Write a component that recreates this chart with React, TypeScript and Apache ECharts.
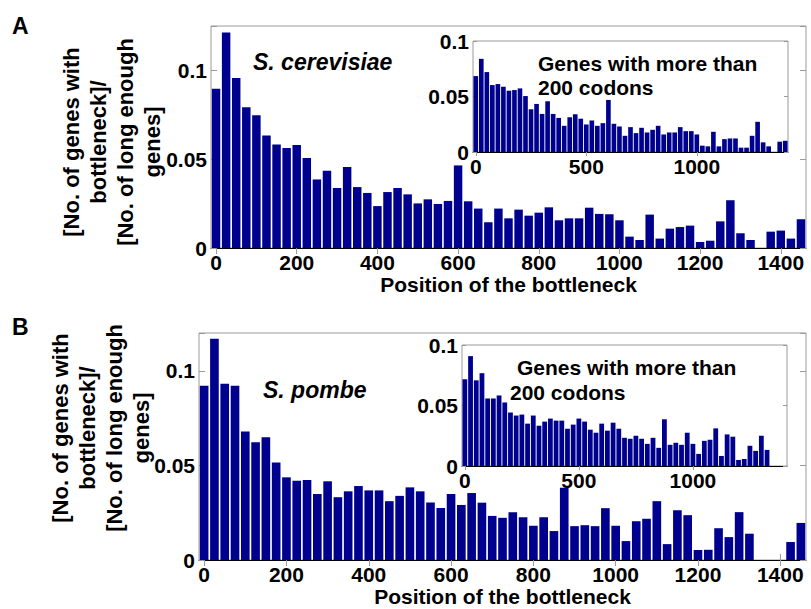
import * as echarts from "echarts";
import { useEffect, useRef } from "react";

const FONT = 'Arial, "Liberation Sans", sans-serif';
const BAR_COLOR = "#00008f";
const BOX_COLOR = "#9a9a9a";

// 25-codon bins, labelled by their start position
const mainBins = [
  0, 25, 50, 75, 100, 125, 150, 175, 200, 225, 250, 275, 300, 325, 350, 375,
  400, 425, 450, 475, 500, 525, 550, 575, 600, 625, 650, 675, 700, 725, 750,
  775, 800, 825, 850, 875, 900, 925, 950, 975, 1000, 1025, 1050, 1075, 1100,
  1125, 1150, 1175, 1200, 1225, 1250, 1275, 1300, 1325, 1350, 1375, 1400,
  1425, 1450,
];
const insetBins = [
  0, 25, 50, 75, 100, 125, 150, 175, 200, 225, 250, 275, 300, 325, 350, 375,
  400, 425, 450, 475, 500, 525, 550, 575, 600, 625, 650, 675, 700, 725, 750,
  775, 800, 825, 850, 875, 900, 925, 950, 975, 1000, 1025, 1050, 1075, 1100,
  1125, 1150, 1175, 1200, 1225, 1250, 1275, 1300, 1325, 1350, 1375, 1400,
];

const mainTickLabels = ["0", "200", "400", "600", "800", "1000", "1200", "1400"];
const insetTickLabels = ["0", "500", "1000"];
const mainYTicks = [0, 0.05, 0.1];
const insetYTicks = [0, 0.05, 0.1];

// S. cerevisiae, all genes
const cerevisiaeAll = [
  0.0897, 0.1214, 0.0957, 0.0792, 0.0747, 0.0634, 0.0583, 0.0563, 0.058, 0.0507,
  0.0386, 0.0435, 0.0338, 0.0456, 0.0343, 0.031, 0.0236, 0.0315, 0.0338, 0.0302,
  0.0251, 0.0274, 0.0248, 0.0265, 0.0465, 0.0263, 0.0222, 0.0145, 0.0222, 0.0167,
  0.0216, 0.0182, 0.0199, 0.0229, 0.0156, 0.0167, 0.0167, 0.0227, 0.0192, 0.019,
  0.0156, 0.0064, 0.0045, 0.0188, 0.0053, 0.0109, 0.0118, 0.0126, 0.0034, 0.0041,
  0.015, 0.0269, 0.0083, 0.0045, 0, 0.0092, 0.0098, 0.0053, 0.0162,
];
// S. cerevisiae, genes with more than 200 codons
const cerevisiaeLong = [
  0.0684, 0.0839, 0.072, 0.0603, 0.0612, 0.0588, 0.0552, 0.0558, 0.0573, 0.0504,
  0.0385, 0.0433, 0.0343, 0.0457, 0.0343, 0.0307, 0.0236, 0.0313, 0.034, 0.03,
  0.0248, 0.0284, 0.0236, 0.026, 0.0469, 0.0254, 0.023, 0.0146, 0.0224, 0.017,
  0.0218, 0.0176, 0.02, 0.0236, 0.0158, 0.0176, 0.0176, 0.0224, 0.0188, 0.0188,
  0.0158, 0.0057, 0.0051, 0.0182, 0.0051, 0.0116, 0.0122, 0.0122, 0.0039, 0.0039,
  0.0146, 0.0272, 0.0087, 0.0051, 0, 0.0093, 0.0101,
];
// S. pombe, all genes
const pombeAll = [
  0.0921, 0.117, 0.0932, 0.0921, 0.0679, 0.0623, 0.0649, 0.0516, 0.0437, 0.0419,
  0.0423, 0.0349, 0.0416, 0.0332, 0.0363, 0.0391, 0.0368, 0.0368, 0.0311, 0.0339,
  0.0384, 0.0363, 0.0304, 0.0275, 0.0349, 0.0291, 0.0354, 0.0303, 0.0233, 0.0223,
  0.0253, 0.0226, 0.0181, 0.0226, 0.0153, 0.0382, 0.0179, 0.0184, 0.0179, 0.0274,
  0.0181, 0.01, 0.0205, 0.0218, 0.0311, 0.0084, 0.0263, 0.0237, 0.0053, 0.0054,
  0.0168, 0.0121, 0.0253, 0.0139, 0, 0, 0, 0.0095, 0.0196,
];
// S. pombe, genes with more than 200 codons
const pombeLong = [
  0.0717, 0.0908, 0.0708, 0.0767, 0.0558, 0.0558, 0.0583, 0.0525, 0.0442, 0.0417,
  0.0425, 0.035, 0.0417, 0.0333, 0.0367, 0.0392, 0.0375, 0.0375, 0.0308, 0.0342,
  0.0392, 0.0367, 0.03, 0.0275, 0.035, 0.0292, 0.0358, 0.0308, 0.0233, 0.0225,
  0.025, 0.0225, 0.0183, 0.0233, 0.015, 0.0386, 0.0175, 0.0192, 0.0175, 0.0275,
  0.0183, 0.01, 0.0208, 0.0217, 0.0311, 0.0083, 0.0261, 0.0242, 0.005, 0.0058,
  0.0167, 0.0125, 0.025, 0.0133, 0, 0, 0,
];

const Y_TITLE = "[No. of genes with\nbottleneck]/\n[No. of long enough\ngenes]";
const X_TITLE = "Position of the bottleneck";

type Box = { left: number; top: number; width: number; height: number };

interface PanelSpec {
  grid: Box;
  bins: number[];
  values: number[];
  tickLabels: string[];
  yTicks: number[];
  yMax: number;
  tickLen: number;
  xName?: string;
  xNameGap?: number;
  inset?: boolean;
}

const panels: PanelSpec[] = [
  {
    grid: { left: 211, top: 26, width: 595, height: 222 },
    bins: mainBins,
    values: cerevisiaeAll,
    tickLabels: mainTickLabels,
    yTicks: mainYTicks,
    yMax: 0.125,
    tickLen: 6,
    xName: X_TITLE,
    xNameGap: 24,
  },
  {
    grid: { left: 473, top: 41, width: 315, height: 111 },
    bins: insetBins,
    values: cerevisiaeLong,
    tickLabels: insetTickLabels,
    yTicks: insetYTicks,
    yMax: 0.1,
    tickLen: 4,
    inset: true,
  },
  {
    grid: { left: 199, top: 333, width: 607, height: 227 },
    bins: mainBins,
    values: pombeAll,
    tickLabels: mainTickLabels,
    yTicks: mainYTicks,
    yMax: 0.12,
    tickLen: 6,
    xName: X_TITLE,
    xNameGap: 25,
  },
  {
    grid: { left: 462, top: 345, width: 325, height: 121 },
    bins: insetBins,
    values: pombeLong,
    tickLabels: insetTickLabels,
    yTicks: insetYTicks,
    yMax: 0.1,
    tickLen: 4,
    inset: true,
  },
];

const labelStyle = { color: "#000", fontFamily: FONT, fontWeight: "bold" as const, fontSize: 21 };

function buildOption(): echarts.EChartsOption {
  const grids: any[] = [];
  const xAxes: any[] = [];
  const yAxes: any[] = [];
  const series: any[] = [];

  panels.forEach((p, g) => {
    const isTick = (i: number) => p.tickLabels.includes(String(p.bins[i]));
    const cats = p.bins.map(String);
    grids.push({
      ...p.grid,
      show: true,
      borderColor: BOX_COLOR,
      borderWidth: 1,
      backgroundColor: "#fff",
      z: p.inset ? 5 : 0,
    });
    // bottom axis with labels and the black bar baseline
    xAxes.push({
      type: "category",
      gridIndex: g,
      data: cats,
      position: "bottom",
      axisLine: { show: true, lineStyle: { color: "#000", width: 1 } },
      axisTick: {
        show: true,
        inside: true,
        alignWithLabel: true,
        interval: isTick,
        length: p.tickLen,
        lineStyle: { color: BOX_COLOR },
      },
      axisLabel: {
        ...labelStyle,
        interval: isTick,
        margin: 4,
        hideOverlap: false,
      },
      name: p.xName,
      nameLocation: "middle",
      nameGap: p.xNameGap,
      nameTextStyle: { ...labelStyle, fontSize: 21, verticalAlign: "top" },
      z: p.inset ? 6 : 1,
    });
    // top axis: ticks only (box style)
    xAxes.push({
      type: "category",
      gridIndex: g,
      data: cats,
      position: "top",
      axisLine: { show: false },
      axisTick: {
        show: true,
        inside: true,
        alignWithLabel: true,
        interval: isTick,
        length: p.tickLen,
        lineStyle: { color: BOX_COLOR },
      },
      axisLabel: { show: false, interval: isTick },
      z: p.inset ? 6 : 1,
    });
    const yFmt = (v: number) => {
      const r = +v.toFixed(4);
      return p.yTicks.includes(r) ? String(r) : "";
    };
    yAxes.push({
      type: "value",
      gridIndex: g,
      position: "left",
      min: 0,
      max: p.yMax,
      interval: 0.05,
      splitLine: { show: false },
      axisLine: { show: false },
      axisTick: { show: true, inside: true, length: p.tickLen, lineStyle: { color: BOX_COLOR } },
      axisLabel: { ...labelStyle, margin: 4, formatter: yFmt, showMaxLabel: true },
      z: p.inset ? 6 : 1,
    });
    yAxes.push({
      type: "value",
      gridIndex: g,
      position: "right",
      min: 0,
      max: p.yMax,
      interval: 0.05,
      splitLine: { show: false },
      axisLine: { show: false },
      axisTick: { show: true, inside: true, length: p.tickLen, lineStyle: { color: BOX_COLOR } },
      axisLabel: { show: false },
      z: p.inset ? 6 : 1,
    });
    series.push({
      type: "bar",
      xAxisIndex: 2 * g,
      yAxisIndex: 2 * g,
      data: p.values,
      barCategoryGap: "16%",
      itemStyle: { color: BAR_COLOR },
      silent: true,
      z: p.inset ? 7 : 2,
    });
  });

  const titleFont = `bold 22px ${FONT}`;
  const graphic: any[] = [
    { type: "text", left: 12, top: 14, style: { text: "A", font: `bold 23px ${FONT}`, fill: "#000" } },
    { type: "text", left: 12, top: 315, style: { text: "B", font: `bold 23px ${FONT}`, fill: "#000" } },
    {
      type: "text",
      x: 112,
      y: 142,
      rotation: Math.PI / 2,
      style: { text: Y_TITLE, font: titleFont, fill: "#000", align: "center", verticalAlign: "middle", lineHeight: 27 },
    },
    {
      type: "text",
      x: 101,
      y: 428,
      rotation: Math.PI / 2,
      style: { text: Y_TITLE, font: titleFont, fill: "#000", align: "center", verticalAlign: "middle", lineHeight: 27 },
    },
    {
      type: "text",
      x: 253,
      y: 62,
      style: { text: "S. cerevisiae", font: `italic bold 23px ${FONT}`, fill: "#000", verticalAlign: "middle" },
    },
    {
      type: "text",
      x: 263,
      y: 390,
      style: { text: "S. pombe", font: `italic bold 23px ${FONT}`, fill: "#000", verticalAlign: "middle" },
    },
    {
      type: "text",
      x: 538,
      y: 63,
      z: 20,
      style: { text: "Genes with more than", font: `bold 21px ${FONT}`, fill: "#000", verticalAlign: "middle" },
    },
    {
      type: "text",
      x: 538,
      y: 87,
      z: 20,
      style: { text: "200 codons", font: `bold 21px ${FONT}`, fill: "#000", verticalAlign: "middle" },
    },
    {
      type: "text",
      x: 517,
      y: 367,
      z: 20,
      style: { text: "Genes with more than", font: `bold 21px ${FONT}`, fill: "#000", verticalAlign: "middle" },
    },
    {
      type: "text",
      x: 510,
      y: 392,
      z: 20,
      style: { text: "200 codons", font: `bold 21px ${FONT}`, fill: "#000", verticalAlign: "middle" },
    },
  ];

  return {
    animation: false,
    backgroundColor: "#fff",
    grid: grids,
    xAxis: xAxes,
    yAxis: yAxes,
    series,
    graphic,
  };
}

export default function App() {
  const containerRef = useRef<HTMLDivElement>(null);

  useEffect(() => {
    const container = containerRef.current;
    if (!container) {
      return;
    }
    const chart = echarts.init(container, null, { renderer: "svg" });
    chart.setOption(buildOption());
    return () => {
      chart.dispose();
    };
  }, []);

  return (
    <div
      ref={containerRef}
      style={{ position: "absolute", left: 0, top: 0, width: 811, height: 609 }}
    />
  );
}
